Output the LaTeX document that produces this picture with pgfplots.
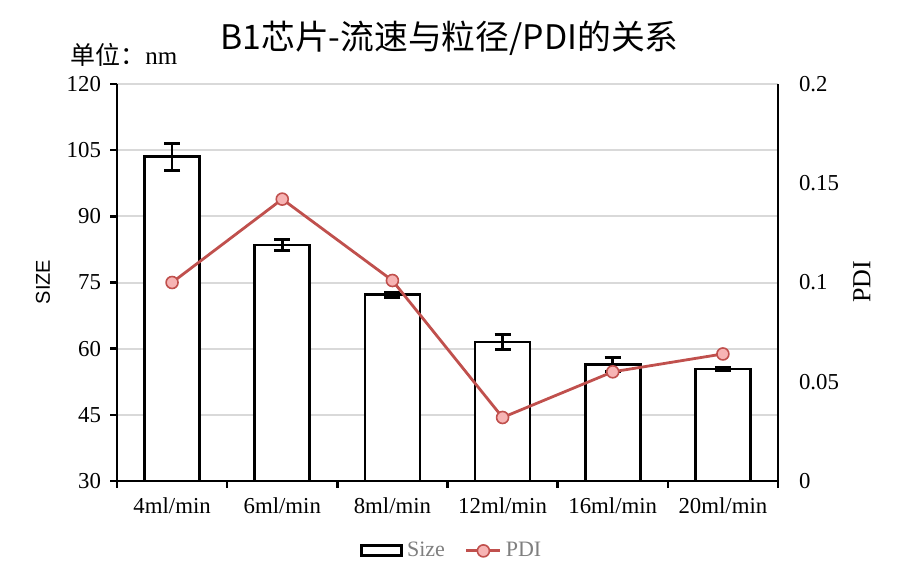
\documentclass[border=0pt]{standalone}
\usepackage{fontspec}
\setmainfont{Liberation Serif}
\newfontfamily\cjk{Noto Sans CJK SC}
\newfontfamily\arial{Liberation Sans}
\usepackage{pgfplots}
\pgfplotsset{compat=1.18}
\definecolor{pdiline}{HTML}{C0504D}
\definecolor{pdifill}{HTML}{F7B4B4}
\definecolor{gridc}{HTML}{D9D9D9}
\definecolor{legtext}{HTML}{7F7F7F}
\pgfplotsset{sizelegend/.style={legend image code/.code={\draw[##1] (0pt,-2.5pt) rectangle (20pt,2.5pt);}}}
\begin{document}
\begin{tikzpicture}[x=1pt,y=1pt]
\useasboundingbox (0,0) rectangle (450,292);
\begin{axis}[at={(58.5pt,51.5pt)}, anchor=south west, scale only axis,
  width=330.5pt, height=198.5pt,
  xmin=-0.5, xmax=5.5, ymin=30, ymax=120, ytick={30,45,...,120},
  ybar, bar width=27.5pt,
  axis x line*=bottom, axis y line*=left,
  axis line style={-, line width=1.4pt, black},
  xtick={-0.5,0.5,...,5.5}, xticklabels={},
  extra x ticks={0,1,2,3,4,5},
  extra x tick labels={4ml/min,6ml/min,8ml/min,12ml/min,16ml/min,20ml/min},
  extra x tick style={major tick length=0pt, grid=none},
  major tick length=3.5pt, tick align=outside,
  tick style={black, line width=1.2pt},
  ymajorgrids, grid style={gridc, line width=1pt},
  ticklabel style={font=\fontsize{11.4}{13}\selectfont},
  /pgf/number format/assume math mode=true,
  xticklabel style={yshift=-5pt},
  yticklabel style={xshift=-1pt},
  clip=false,
]
\addplot[draw=black, fill=white, line width=1.4pt,
  error bars/.cd, y dir=both, y explicit,
  error mark options={black, line width=1.5pt, mark size=4pt, rotate=90},
  error bar style={black, line width=1.3pt}]
  coordinates {(0,103.5) +- (0,3.1)
               (1,83.5) +- (0,1.2)
               (2,72.2) +- (0,0.5)
               (3,61.5) +- (0,1.6)
               (4,56.5) +- (0,1.6)
               (5,55.4) +- (0,0.4)};
\end{axis}
\begin{axis}[at={(58.5pt,51.5pt)}, anchor=south west, scale only axis,
  width=330.5pt, height=198.5pt,
  xmin=-0.5, xmax=5.5, ymin=0, ymax=0.2, ytick={0,0.05,0.1,0.15,0.2},
  axis x line=none, axis y line*=right,
  axis line style={-, line width=1.4pt, black},
  major tick length=0pt,
  ticklabel style={font=\fontsize{11.4}{13}\selectfont},
  /pgf/number format/assume math mode=true,
  /pgf/number format/fixed, /pgf/number format/precision=2,
  scaled y ticks=false,
  yticklabel style={xshift=7pt},
  clip=false,
  legend style={at={(0.508,-0.176)}, anchor=center, draw=none, fill=none,
    legend columns=2, font=\fontsize{11}{13}\selectfont, text=legtext,
    /tikz/every even column/.append style={column sep=8pt}},
]
\addlegendimage{draw=black, fill=white, line width=1.4pt, sizelegend}
\addlegendentry{Size}
\addplot[pdiline, line width=1.4pt, mark=*, mark size=3pt,
  mark options={fill=pdifill, draw=pdiline, line width=0.8pt}]
  coordinates {(0,0.100) (1,0.142) (2,0.101) (3,0.032) (4,0.055) (5,0.064)};
\addlegendentry{PDI}
\end{axis}
\node[font=\cjk\fontsize{16.9}{19}\selectfont] at (224.75,273) {B1芯片-流速与粒径/PDI的关系};
\node[anchor=west, font=\fontsize{12.5}{14}\selectfont, inner sep=0pt] at (35,264.5) {{\cjk 单位：}nm};
\node[rotate=90, font=\arial\fontsize{10}{12}\selectfont] at (21.5,151) {SIZE};
\node[rotate=90, font=\fontsize{13}{15}\selectfont] at (431,151) {PDI};
\end{tikzpicture}
\end{document}
